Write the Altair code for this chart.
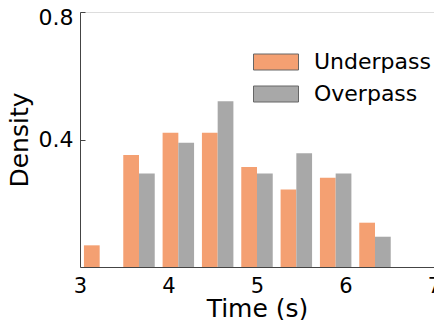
import altair as alt
import pandas as pd

# bin edges (9 bins from 3 to 7)
bin_start = 3.0
bin_end = 7.0
n_bins = 9
series = ["Underpass", "Overpass"]
underpass = [0.068, 0.351, 0.421, 0.421, 0.314, 0.243, 0.280, 0.139, 0.0]
overpass = [0.0, 0.293, 0.390, 0.520, 0.293, 0.357, 0.293, 0.095, 0.0]
colors = ["#F4A072", "#A8A8A8"]
x_ticks = [3, 4, 5, 6, 7]
y_ticks = [0.4, 0.8]

bw = (bin_end - bin_start) / n_bins
rows = []
for i in range(n_bins):
    edge = bin_start + i * bw
    for k, (name, vals) in enumerate(zip(series, [underpass, overpass])):
        if vals[i] <= 0:
            continue
        rows.append({
            "series": name,
            "x": edge + bw * (0.1 + 0.4 * k),
            "x2": edge + bw * (0.5 + 0.4 * k),
            "density": vals[i],
        })
df = pd.DataFrame(rows)

FONT = "DejaVu Sans"
xscale = alt.Scale(domain=[bin_start, bin_end], nice=False, zero=False)
yscale = alt.Scale(domain=[0, 0.8], nice=False)

bars = alt.Chart(df).mark_rect().encode(
    x=alt.X("x:Q", scale=xscale,
            axis=alt.Axis(values=x_ticks, format="d", title="Time (s)",
                          grid=False, ticks=False, tickSize=0, labelFontSize=21, titleFontSize=25,
                          labelPadding=8, titleY=49, titleBaseline="alphabetic", labelFlush=False,
                          domainColor="#444", labelColor="black", titleColor="black",
                          titleFontWeight="normal")),
    x2="x2:Q",
    y=alt.Y("density:Q", scale=yscale,
            axis=alt.Axis(values=y_ticks, format=".1f", title="Density",
                          grid=False, ticks=False, tickSize=0, labelFontSize=22, titleFontSize=25,
                          labelPadding=7, titlePadding=6, labelFlush=True, labelFlushOffset=5,
                          domainColor="#444", labelColor="black", titleColor="black",
                          titleFontWeight="normal")),
    y2=alt.datum(0),
    color=alt.Color("series:N",
                    scale=alt.Scale(domain=series, range=colors),
                    legend=alt.Legend(title=None, orient="none", legendX=185, legendY=39,
                                      symbolType="M-2.8125,-1H2.8125V1H-2.8125Z", symbolSize=256,
                                      symbolStrokeColor="#666", symbolStrokeWidth=1,
                                      labelFontSize=22, labelOffset=27, rowPadding=10,
                                      padding=0, labelColor="black", labelFont=FONT)),
)

# invisible layer that only carries the inward tick marks
ticks = alt.Chart(df).mark_point(opacity=0).encode(
    x=alt.X("x:Q", scale=xscale,
            axis=alt.Axis(values=[4, 5, 6], orient="bottom", offset=-5, domain=False,
                          labels=False, title=None, grid=False, tickSize=5, tickColor="#444")),
    y=alt.Y("density:Q", scale=yscale,
            axis=alt.Axis(values=y_ticks, orient="left", offset=-5, domain=False,
                          labels=False, title=None, grid=False, tickSize=5, tickColor="#444")),
)

chart = alt.layer(bars, ticks).resolve_axis(x="independent", y="independent").properties(
    width=354, height=255,
    autosize=alt.AutoSizeParams(type="none"),
    padding={"left": 72, "top": 4, "right": 0, "bottom": 53},
).configure_view(stroke=None).configure(font=FONT).configure_axis(labelFont=FONT, titleFont=FONT)

chart.save("out.html", embed_options={"renderer": "svg", "actions": False})
